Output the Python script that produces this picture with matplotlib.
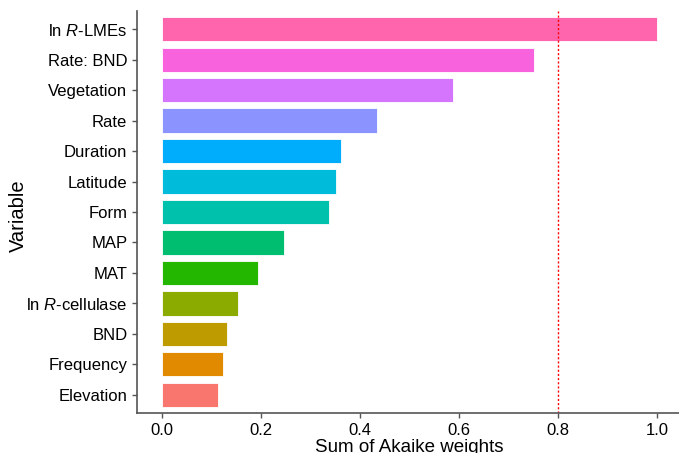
import matplotlib
matplotlib.use("Agg")
import matplotlib.pyplot as plt

plt.rcParams['font.family'] = ['Liberation Sans', 'DejaVu Sans']
plt.rcParams['mathtext.fontset'] = 'custom'
plt.rcParams['mathtext.rm'] = 'Liberation Sans'
plt.rcParams['mathtext.it'] = 'Liberation Sans:italic'

# bottom to top
variables = ["Elevation", "Frequency", "BND", r"ln $\mathit{R}$-cellulase", "MAT", "MAP",
             "Form", "Latitude", "Duration", "Rate", "Vegetation", "Rate: BND",
             r"ln $\mathit{R}$-LMEs"]
weights = [0.113, 0.123, 0.131, 0.154, 0.194, 0.246, 0.337, 0.352, 0.362, 0.434,
           0.588, 0.752, 1.0]
colors = ["#F8766D", "#E18A00", "#BE9C00", "#8CAB00", "#24B700", "#00BE70", "#00C1AB",
          "#00BBDA", "#00ACFC", "#8B93FF", "#D575FE", "#F962DD", "#FF65AC"]
threshold = 0.8

fig = plt.figure(figsize=(6.79, 4.53), dpi=100)
ax = fig.add_axes([137 / 679, 40 / 453, 545 / 679, 402 / 453])

y = range(len(variables))
ax.barh(y, weights, height=0.8, color=colors, edgecolor="white", linewidth=0.6)
ax.axvline(threshold, color="red", linestyle=(0, (1.5, 1.5)), linewidth=1)

ax.set_xlim(-0.05, 1.05)
ax.set_ylim(-0.6, len(variables) - 0.4)
ax.set_yticks(list(y))
ax.set_yticklabels(variables)
ax.set_xticks([0.0, 0.2, 0.4, 0.6, 0.8, 1.0])
ax.set_xticklabels(["0.0", "0.2", "0.4", "0.6", "0.8", "1.0"])

for s in ["top", "right"]:
    ax.spines[s].set_visible(False)
for s in ["left", "bottom"]:
    ax.spines[s].set_color("#555555")
    ax.spines[s].set_linewidth(1.2)
ax.tick_params(axis="both", colors="#555555", labelcolor="black", labelsize=12,
               length=3.5, width=1)
ax.set_xlabel("Sum of Akaike weights", fontsize=13.5, labelpad=1)
ax.set_ylabel("Variable", fontsize=14.5, labelpad=0)
ax.yaxis.set_label_coords(-0.200, 0.49)

fig.savefig("out.png", dpi=100)
